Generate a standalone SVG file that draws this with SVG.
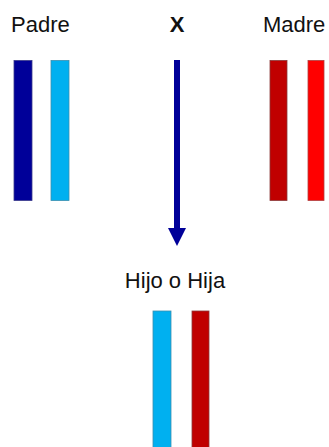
<svg xmlns="http://www.w3.org/2000/svg" width="329" height="447" viewBox="0 0 329 447">
<style>
text{font-family:"Liberation Sans",Arial,sans-serif;font-size:22px;fill:#111}
.bar{stroke-width:0.8}
.db{fill:#000099;stroke:#3a3a8a}
.lb{fill:#00B0F0;stroke:#3a8fb0}
.dr{fill:#C00000;stroke:#8a3a3a}
.rr{fill:#FF0000;stroke:#b04040}
</style>
<defs>
<marker id="ah" markerWidth="3" markerHeight="3" refX="0" refY="1.5" orient="auto" markerUnits="strokeWidth">
<path d="M0,0 L3,1.5 L0,3 Z" fill="#000099"/>
</marker>
</defs>
<rect width="329" height="447" fill="#fff"/>
<g id="padre">
<text x="11" y="32">Padre</text>
<rect class="bar db" x="14" y="60.5" width="18" height="140"/>
<rect class="bar lb" x="51" y="60.5" width="18" height="140"/>
</g>
<g id="madre">
<text x="263" y="32">Madre</text>
<rect class="bar dr" x="270" y="60.5" width="17" height="140"/>
<rect class="bar rr" x="308" y="60.5" width="16" height="140"/>
</g>
<g id="cruce">
<text x="177" y="32" text-anchor="middle" font-weight="bold">X</text>
</g>
<g id="connectors">
<line x1="177" y1="60" x2="177" y2="228" stroke="#000099" stroke-width="6" marker-end="url(#ah)"/>
</g>
<g id="hijo">
<text x="175" y="288" text-anchor="middle">Hijo o Hija</text>
<rect class="bar lb" x="153" y="311" width="18" height="140"/>
<rect class="bar dr" x="192" y="311" width="17" height="140"/>
</g>
</svg>
